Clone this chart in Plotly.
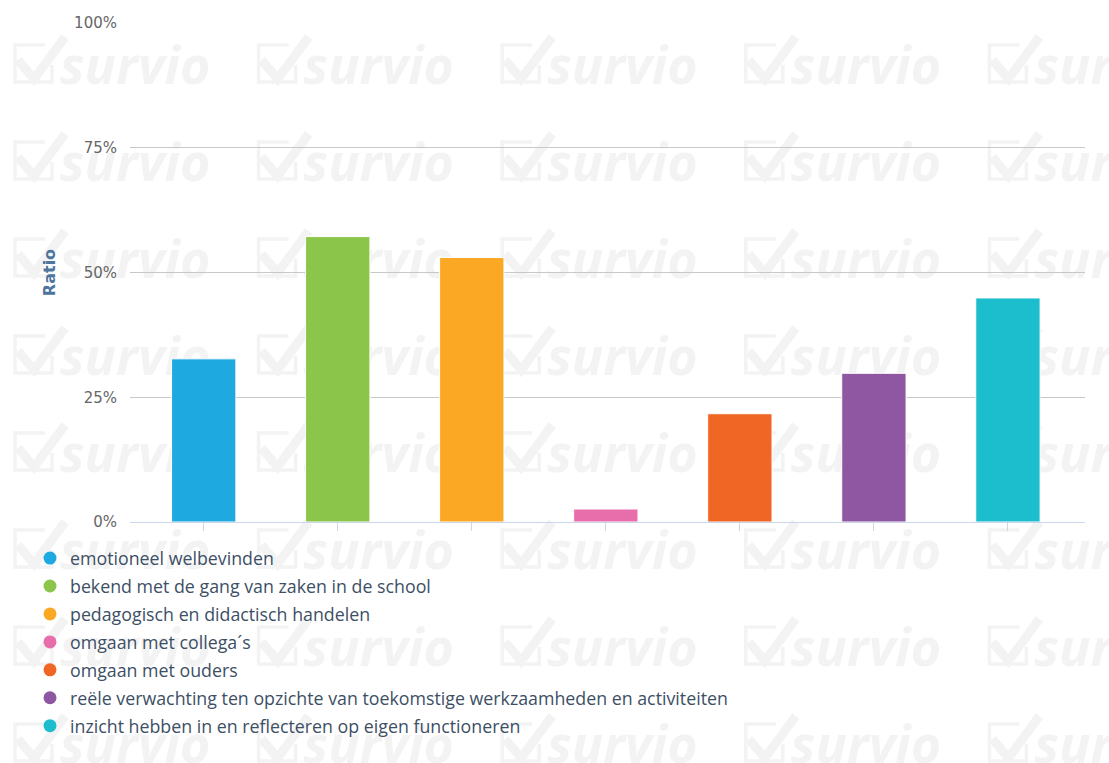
import plotly.graph_objects as go

# Survey answers and their share of respondents (%)
categories = [
    "emotioneel welbevinden",
    "bekend met de gang van zaken in de school",
    "pedagogisch en didactisch handelen",
    "omgaan met collega´s",
    "omgaan met ouders",
    "reële verwachting ten opzichte van toekomstige werkzaamheden en activiteiten",
    "inzicht hebben in en reflecteren op eigen functioneren",
]
ratios = [32.7, 57.2, 53.0, 2.6, 21.7, 29.8, 44.9]
bar_colors = ["#1fa9e1", "#8bc54a", "#fba925", "#e86dab", "#f06624", "#8f56a1", "#1cbdcd"]

y_ticks = [0, 25, 50, 75, 100]
y_tick_labels = ["0%", "25%", "50%", "75%", "100%"]

# Canvas and plot-area geometry (pixels)
W, H = 1109, 763
ML, MR, MT, MB = 130, 24, 23, 241
PW, PH = W - ML - MR, H - MT - MB


def paper_x(px):
    return (px - ML) / PW


def paper_y(py):
    return (H - MB - py) / PH


def paper_path(points, closed=False):
    parts = []
    for k, (px, py) in enumerate(points):
        parts.append(("M" if k == 0 else "L") + f"{paper_x(px):.5f},{paper_y(py):.5f}")
    return " ".join(parts) + (" Z" if closed else "")


fig = go.Figure()

for cat, val, col in zip(categories, ratios, bar_colors):
    fig.add_bar(
        x=[cat], y=[val], name=cat, width=0.48, showlegend=False,
        marker=dict(color=col, line=dict(color="white", width=1)),
        hoverinfo="skip",
    )

# Round legend markers
for cat, col in zip(categories, bar_colors):
    fig.add_scatter(
        x=[None], y=[None], mode="markers", name=cat, legendgroup=cat,
        marker=dict(color=col, size=13, symbol="circle"),
    )

# Repeated light "survio" watermark (check box + word) behind the chart
WM = "#f3f3f3"
shapes = []
for i in range(5):
    for j in range(8):
        x0 = 15 + 243.6 * i
        yc = 67 + 97 * j
        # open box
        shapes.append(dict(
            type="path", xref="paper", yref="paper", layer="below",
            path=paper_path([(x0 + 30, yc - 22), (x0, yc - 22), (x0, yc + 15),
                             (x0 + 37, yc + 15), (x0 + 37, yc - 2)]),
            line=dict(color=WM, width=3.5),
        ))
        # heavy check mark
        shapes.append(dict(
            type="path", xref="paper", yref="paper", layer="below",
            path=paper_path([(x0 + 3, yc - 7), (x0 + 19, yc + 12), (x0 + 50, yc - 30)]),
            line=dict(color=WM, width=9),
        ))
        # word mark
        shapes.append(dict(
            type="line", xref="paper", yref="paper", layer="below",
            x0=paper_x(x0 + 45), x1=paper_x(x0 + 45), y0=paper_y(yc), y1=paper_y(yc),
            line=dict(width=0, color="rgba(0,0,0,0)"),
            label=dict(
                text="<b><i>survio</i></b>", textposition="start", textangle=0,
                xanchor="left", yanchor="middle", padding=0,
                font=dict(family="Open Sans", size=52, color=WM),
            ),
        ))

fig.update_layout(
    width=W, height=H,
    margin=dict(l=ML, r=MR, t=MT, b=MB, pad=0, autoexpand=False),
    paper_bgcolor="white", plot_bgcolor="rgba(0,0,0,0)",
    barmode="overlay",
    shapes=shapes,
    showlegend=True,
    legend=dict(
        orientation="v", x=paper_x(30), xanchor="left", y=paper_y(540), yanchor="top",
        font=dict(family="Open Sans", size=17.8, color="#3d4f65"),
        bgcolor="rgba(0,0,0,0)", tracegroupgap=1.8, itemclick=False, itemdoubleclick=False,
    ),
    xaxis=dict(
        type="category", range=[-0.55, 6.575], showticklabels=False,
        ticks="outside", ticklen=8, tickcolor="#ccd6eb", tickwidth=1,
        showline=True, linecolor="#ccd6eb", linewidth=1, showgrid=False, zeroline=False,
        fixedrange=True,
    ),
    yaxis=dict(
        range=[0, 100], tickvals=y_ticks, ticktext=y_tick_labels,
        ticks="outside", ticklen=9, tickcolor="rgba(0,0,0,0)",
        tickfont=dict(family="DejaVu Sans", size=15, color="#666666"),
        showgrid=True, gridcolor="#c8c8c8", gridwidth=1, zeroline=False, showline=False,
        title=dict(text="<b>Ratio</b>", font=dict(family="DejaVu Sans", size=16, color="#4d759e"), standoff=14),
        fixedrange=True,
    ),
)

fig.write_html("out.html")
